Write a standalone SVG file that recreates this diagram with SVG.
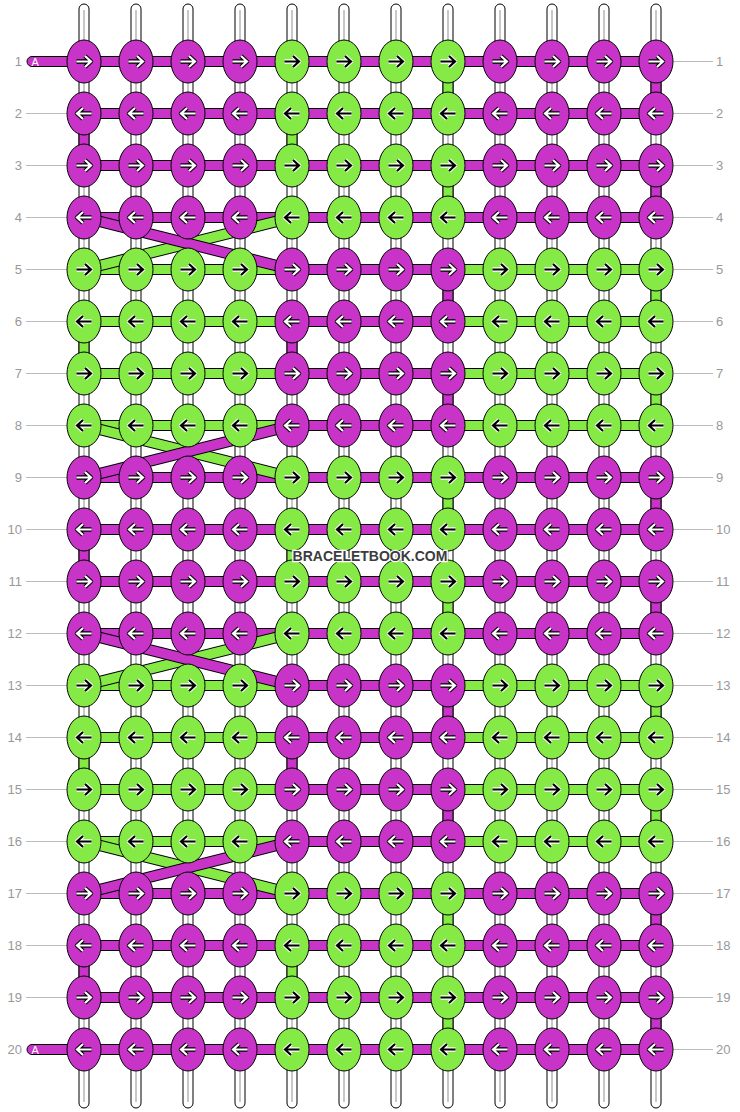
<svg xmlns="http://www.w3.org/2000/svg" width="740" height="1112" viewBox="0 0 740 1112">
<style>
.str{fill:#fff;stroke:#000;stroke-width:1}
.sc{stroke:#c8c8c8;stroke-width:2}
.m{fill:#c833c8;stroke:#000;stroke-width:1}
.g{fill:#86ea46;stroke:#000;stroke-width:1}
.lo{stroke:#000;stroke-width:11.5;fill:none}
.lm{stroke:#c833c8;stroke-width:9.5;fill:none}
.lg{stroke:#86ea46;stroke-width:9.5;fill:none}
.gl{stroke:#bbb;stroke-width:1}
.lab{font-family:"Liberation Sans",Arial,sans-serif;font-size:13px;fill:#999}
.labr{font-family:"Liberation Sans",Arial,sans-serif;font-size:13px;fill:#999}
.wm{font-family:"Liberation Sans",Arial,sans-serif;font-size:14px;font-weight:bold;fill:#3c3c3c;stroke:#fff;stroke-width:2.5;paint-order:stroke}
.al{font-family:"Liberation Sans",Arial,sans-serif;font-size:11px;fill:#fff}
</style>
<defs>
<g id="rw"><path d="M-7.5,0H6.5M1,-5.5L7,0L1,5.5" fill="none" stroke="#000" stroke-width="4.4" stroke-linejoin="round"/><path d="M-7.5,0H6.5M1,-5.5L7,0L1,5.5" fill="none" stroke="#fff" stroke-width="2.2" stroke-linejoin="miter"/></g>
<g id="lw"><path d="M7.5,0H-6.5M-1,-5.5L-7,0L-1,5.5" fill="none" stroke="#000" stroke-width="4.4" stroke-linejoin="round"/><path d="M7.5,0H-6.5M-1,-5.5L-7,0L-1,5.5" fill="none" stroke="#fff" stroke-width="2.2" stroke-linejoin="miter"/></g>
<g id="rb"><path d="M-7.5,0H6.5M1,-5.5L7,0L1,5.5" fill="none" stroke="#fff" stroke-width="4.4" stroke-linejoin="round"/><path d="M-7.5,0H6.5M1,-5.5L7,0L1,5.5" fill="none" stroke="#000" stroke-width="2.2" stroke-linejoin="miter"/></g>
<g id="lb"><path d="M7.5,0H-6.5M-1,-5.5L-7,0L-1,5.5" fill="none" stroke="#fff" stroke-width="4.4" stroke-linejoin="round"/><path d="M7.5,0H-6.5M-1,-5.5L-7,0L-1,5.5" fill="none" stroke="#000" stroke-width="2.2" stroke-linejoin="miter"/></g>
</defs>
<rect width="740" height="1112" fill="#fff"/>
<g id="labels">
<g class="gl">
<line x1="26" y1="113.5" x2="67" y2="113.5"/><line x1="26" y1="165.5" x2="67" y2="165.5"/><line x1="26" y1="217.5" x2="67" y2="217.5"/><line x1="26" y1="269.5" x2="67" y2="269.5"/><line x1="26" y1="321.5" x2="67" y2="321.5"/><line x1="26" y1="373.5" x2="67" y2="373.5"/><line x1="26" y1="425.5" x2="67" y2="425.5"/><line x1="26" y1="477.5" x2="67" y2="477.5"/><line x1="26" y1="529.5" x2="67" y2="529.5"/><line x1="26" y1="581.5" x2="67" y2="581.5"/><line x1="26" y1="633.5" x2="67" y2="633.5"/><line x1="26" y1="685.5" x2="67" y2="685.5"/><line x1="26" y1="737.5" x2="67" y2="737.5"/><line x1="26" y1="789.5" x2="67" y2="789.5"/><line x1="26" y1="841.5" x2="67" y2="841.5"/><line x1="26" y1="893.5" x2="67" y2="893.5"/><line x1="26" y1="945.5" x2="67" y2="945.5"/><line x1="26" y1="997.5" x2="67" y2="997.5"/>
<line x1="673" y1="61.5" x2="713" y2="61.5"/><line x1="673" y1="113.5" x2="713" y2="113.5"/><line x1="673" y1="165.5" x2="713" y2="165.5"/><line x1="673" y1="217.5" x2="713" y2="217.5"/><line x1="673" y1="269.5" x2="713" y2="269.5"/><line x1="673" y1="321.5" x2="713" y2="321.5"/><line x1="673" y1="373.5" x2="713" y2="373.5"/><line x1="673" y1="425.5" x2="713" y2="425.5"/><line x1="673" y1="477.5" x2="713" y2="477.5"/><line x1="673" y1="529.5" x2="713" y2="529.5"/><line x1="673" y1="581.5" x2="713" y2="581.5"/><line x1="673" y1="633.5" x2="713" y2="633.5"/><line x1="673" y1="685.5" x2="713" y2="685.5"/><line x1="673" y1="737.5" x2="713" y2="737.5"/><line x1="673" y1="789.5" x2="713" y2="789.5"/><line x1="673" y1="841.5" x2="713" y2="841.5"/><line x1="673" y1="893.5" x2="713" y2="893.5"/><line x1="673" y1="945.5" x2="713" y2="945.5"/><line x1="673" y1="997.5" x2="713" y2="997.5"/><line x1="673" y1="1049.5" x2="713" y2="1049.5"/>
</g>
<g class="lab" text-anchor="end">
<text x="22" y="66">1</text><text x="22" y="118">2</text><text x="22" y="170">3</text><text x="22" y="222">4</text><text x="22" y="274">5</text><text x="22" y="326">6</text><text x="22" y="378">7</text><text x="22" y="430">8</text><text x="22" y="482">9</text><text x="22" y="534">10</text><text x="22" y="586">11</text><text x="22" y="638">12</text><text x="22" y="690">13</text><text x="22" y="742">14</text><text x="22" y="794">15</text><text x="22" y="846">16</text><text x="22" y="898">17</text><text x="22" y="950">18</text><text x="22" y="1002">19</text><text x="22" y="1054">20</text>
</g>
<g class="labr" text-anchor="start">
<text x="716" y="66">1</text><text x="716" y="118">2</text><text x="716" y="170">3</text><text x="716" y="222">4</text><text x="716" y="274">5</text><text x="716" y="326">6</text><text x="716" y="378">7</text><text x="716" y="430">8</text><text x="716" y="482">9</text><text x="716" y="534">10</text><text x="716" y="586">11</text><text x="716" y="638">12</text><text x="716" y="690">13</text><text x="716" y="742">14</text><text x="716" y="794">15</text><text x="716" y="846">16</text><text x="716" y="898">17</text><text x="716" y="950">18</text><text x="716" y="1002">19</text><text x="716" y="1054">20</text>
</g>
</g>
<g id="strings">
<rect class="str" x="79" y="4" width="10" height="1104" rx="5"/><rect class="str" x="131" y="4" width="10" height="1104" rx="5"/><rect class="str" x="183" y="4" width="10" height="1104" rx="5"/><rect class="str" x="235" y="4" width="10" height="1104" rx="5"/><rect class="str" x="287" y="4" width="10" height="1104" rx="5"/><rect class="str" x="339" y="4" width="10" height="1104" rx="5"/><rect class="str" x="391" y="4" width="10" height="1104" rx="5"/><rect class="str" x="443" y="4" width="10" height="1104" rx="5"/><rect class="str" x="495" y="4" width="10" height="1104" rx="5"/><rect class="str" x="547" y="4" width="10" height="1104" rx="5"/><rect class="str" x="599" y="4" width="10" height="1104" rx="5"/><rect class="str" x="651" y="4" width="10" height="1104" rx="5"/>
<g class="sc"><line x1="84" y1="10" x2="84" y2="1102"/><line x1="136" y1="10" x2="136" y2="1102"/><line x1="188" y1="10" x2="188" y2="1102"/><line x1="240" y1="10" x2="240" y2="1102"/><line x1="292" y1="10" x2="292" y2="1102"/><line x1="344" y1="10" x2="344" y2="1102"/><line x1="396" y1="10" x2="396" y2="1102"/><line x1="448" y1="10" x2="448" y2="1102"/><line x1="500" y1="10" x2="500" y2="1102"/><line x1="552" y1="10" x2="552" y2="1102"/><line x1="604" y1="10" x2="604" y2="1102"/><line x1="656" y1="10" x2="656" y2="1102"/></g>
</g>
<g id="connectors">
<rect class="m" x="27" y="56.5" width="629" height="10" rx="5"/>
<rect class="m" x="84" y="108.5" width="572" height="10"/>
<rect class="m" x="84" y="160.5" width="572" height="10"/>
<rect class="m" x="84" y="212.5" width="572" height="10"/>
<rect class="g" x="84" y="264.5" width="572" height="10"/><rect class="m" x="292" y="264.5" width="156" height="10"/>
<rect class="g" x="84" y="316.5" width="572" height="10"/><rect class="m" x="292" y="316.5" width="156" height="10"/>
<rect class="g" x="84" y="368.5" width="572" height="10"/><rect class="m" x="292" y="368.5" width="156" height="10"/>
<rect class="g" x="84" y="420.5" width="572" height="10"/><rect class="m" x="292" y="420.5" width="156" height="10"/>
<rect class="m" x="84" y="472.5" width="572" height="10"/>
<rect class="m" x="84" y="524.5" width="572" height="10"/>
<rect class="m" x="84" y="576.5" width="572" height="10"/>
<rect class="m" x="84" y="628.5" width="572" height="10"/>
<rect class="g" x="84" y="680.5" width="572" height="10"/><rect class="m" x="292" y="680.5" width="156" height="10"/>
<rect class="g" x="84" y="732.5" width="572" height="10"/><rect class="m" x="292" y="732.5" width="156" height="10"/>
<rect class="g" x="84" y="784.5" width="572" height="10"/><rect class="m" x="292" y="784.5" width="156" height="10"/>
<rect class="g" x="84" y="836.5" width="572" height="10"/><rect class="m" x="292" y="836.5" width="156" height="10"/>
<rect class="m" x="84" y="888.5" width="572" height="10"/>
<rect class="m" x="84" y="940.5" width="572" height="10"/>
<rect class="m" x="84" y="992.5" width="572" height="10"/>
<rect class="m" x="27" y="1044.5" width="629" height="10" rx="5"/>
<line class="lo" x1="292" y1="217.5" x2="84" y2="269.5"/><line class="lg" x1="292" y1="217.5" x2="84" y2="269.5"/>
<line class="lo" x1="84" y1="217.5" x2="292" y2="269.5"/><line class="lm" x1="84" y1="217.5" x2="292" y2="269.5"/>
<line class="lo" x1="84" y1="425.5" x2="292" y2="477.5"/><line class="lg" x1="84" y1="425.5" x2="292" y2="477.5"/>
<line class="lo" x1="292" y1="425.5" x2="84" y2="477.5"/><line class="lm" x1="292" y1="425.5" x2="84" y2="477.5"/>
<line class="lo" x1="292" y1="633.5" x2="84" y2="685.5"/><line class="lg" x1="292" y1="633.5" x2="84" y2="685.5"/>
<line class="lo" x1="84" y1="633.5" x2="292" y2="685.5"/><line class="lm" x1="84" y1="633.5" x2="292" y2="685.5"/>
<line class="lo" x1="84" y1="841.5" x2="292" y2="893.5"/><line class="lg" x1="84" y1="841.5" x2="292" y2="893.5"/>
<line class="lo" x1="292" y1="841.5" x2="84" y2="893.5"/><line class="lm" x1="292" y1="841.5" x2="84" y2="893.5"/>
<rect class="g" x="443" y="61.5" width="10" height="52"/><rect class="m" x="651" y="61.5" width="10" height="52"/>
<rect class="m" x="79" y="113.5" width="10" height="52"/><rect class="g" x="287" y="113.5" width="10" height="52"/>
<rect class="g" x="443" y="165.5" width="10" height="52"/><rect class="m" x="651" y="165.5" width="10" height="52"/>
<rect class="m" x="443" y="269.5" width="10" height="52"/><rect class="g" x="651" y="269.5" width="10" height="52"/>
<rect class="g" x="79" y="321.5" width="10" height="52"/><rect class="m" x="287" y="321.5" width="10" height="52"/>
<rect class="m" x="443" y="373.5" width="10" height="52"/><rect class="g" x="651" y="373.5" width="10" height="52"/>
<rect class="g" x="443" y="477.5" width="10" height="52"/><rect class="m" x="651" y="477.5" width="10" height="52"/>
<rect class="m" x="79" y="529.5" width="10" height="52"/><rect class="g" x="287" y="529.5" width="10" height="52"/>
<rect class="g" x="443" y="581.5" width="10" height="52"/><rect class="m" x="651" y="581.5" width="10" height="52"/>
<rect class="m" x="443" y="685.5" width="10" height="52"/><rect class="g" x="651" y="685.5" width="10" height="52"/>
<rect class="g" x="79" y="737.5" width="10" height="52"/><rect class="m" x="287" y="737.5" width="10" height="52"/>
<rect class="m" x="443" y="789.5" width="10" height="52"/><rect class="g" x="651" y="789.5" width="10" height="52"/>
<rect class="g" x="443" y="893.5" width="10" height="52"/><rect class="m" x="651" y="893.5" width="10" height="52"/>
<rect class="m" x="79" y="945.5" width="10" height="52"/><rect class="g" x="287" y="945.5" width="10" height="52"/>
<rect class="g" x="443" y="997.5" width="10" height="52"/><rect class="m" x="651" y="997.5" width="10" height="52"/>
<text class="al" x="31.5" y="65.5">A</text>
<text class="al" x="31.5" y="1053.5">A</text>
</g>
<g id="knots">
<g id="k1-1"><ellipse class="m" cx="84" cy="61.5" rx="17" ry="21.5"/><use href="#rw" x="84" y="61.5"/></g>
<g id="k1-2"><ellipse class="m" cx="136" cy="61.5" rx="17" ry="21.5"/><use href="#rw" x="136" y="61.5"/></g>
<g id="k1-3"><ellipse class="m" cx="188" cy="61.5" rx="17" ry="21.5"/><use href="#rw" x="188" y="61.5"/></g>
<g id="k1-4"><ellipse class="m" cx="240" cy="61.5" rx="17" ry="21.5"/><use href="#rw" x="240" y="61.5"/></g>
<g id="k1-5"><ellipse class="g" cx="292" cy="61.5" rx="17" ry="21.5"/><use href="#rb" x="292" y="61.5"/></g>
<g id="k1-6"><ellipse class="g" cx="344" cy="61.5" rx="17" ry="21.5"/><use href="#rb" x="344" y="61.5"/></g>
<g id="k1-7"><ellipse class="g" cx="396" cy="61.5" rx="17" ry="21.5"/><use href="#rb" x="396" y="61.5"/></g>
<g id="k1-8"><ellipse class="g" cx="448" cy="61.5" rx="17" ry="21.5"/><use href="#rb" x="448" y="61.5"/></g>
<g id="k1-9"><ellipse class="m" cx="500" cy="61.5" rx="17" ry="21.5"/><use href="#rw" x="500" y="61.5"/></g>
<g id="k1-10"><ellipse class="m" cx="552" cy="61.5" rx="17" ry="21.5"/><use href="#rw" x="552" y="61.5"/></g>
<g id="k1-11"><ellipse class="m" cx="604" cy="61.5" rx="17" ry="21.5"/><use href="#rw" x="604" y="61.5"/></g>
<g id="k1-12"><ellipse class="m" cx="656" cy="61.5" rx="17" ry="21.5"/><use href="#rw" x="656" y="61.5"/></g>
<g id="k2-1"><ellipse class="m" cx="84" cy="113.5" rx="17" ry="21.5"/><use href="#lw" x="84" y="113.5"/></g>
<g id="k2-2"><ellipse class="m" cx="136" cy="113.5" rx="17" ry="21.5"/><use href="#lw" x="136" y="113.5"/></g>
<g id="k2-3"><ellipse class="m" cx="188" cy="113.5" rx="17" ry="21.5"/><use href="#lw" x="188" y="113.5"/></g>
<g id="k2-4"><ellipse class="m" cx="240" cy="113.5" rx="17" ry="21.5"/><use href="#lw" x="240" y="113.5"/></g>
<g id="k2-5"><ellipse class="g" cx="292" cy="113.5" rx="17" ry="21.5"/><use href="#lb" x="292" y="113.5"/></g>
<g id="k2-6"><ellipse class="g" cx="344" cy="113.5" rx="17" ry="21.5"/><use href="#lb" x="344" y="113.5"/></g>
<g id="k2-7"><ellipse class="g" cx="396" cy="113.5" rx="17" ry="21.5"/><use href="#lb" x="396" y="113.5"/></g>
<g id="k2-8"><ellipse class="g" cx="448" cy="113.5" rx="17" ry="21.5"/><use href="#lb" x="448" y="113.5"/></g>
<g id="k2-9"><ellipse class="m" cx="500" cy="113.5" rx="17" ry="21.5"/><use href="#lw" x="500" y="113.5"/></g>
<g id="k2-10"><ellipse class="m" cx="552" cy="113.5" rx="17" ry="21.5"/><use href="#lw" x="552" y="113.5"/></g>
<g id="k2-11"><ellipse class="m" cx="604" cy="113.5" rx="17" ry="21.5"/><use href="#lw" x="604" y="113.5"/></g>
<g id="k2-12"><ellipse class="m" cx="656" cy="113.5" rx="17" ry="21.5"/><use href="#lw" x="656" y="113.5"/></g>
<g id="k3-1"><ellipse class="m" cx="84" cy="165.5" rx="17" ry="21.5"/><use href="#rw" x="84" y="165.5"/></g>
<g id="k3-2"><ellipse class="m" cx="136" cy="165.5" rx="17" ry="21.5"/><use href="#rw" x="136" y="165.5"/></g>
<g id="k3-3"><ellipse class="m" cx="188" cy="165.5" rx="17" ry="21.5"/><use href="#rw" x="188" y="165.5"/></g>
<g id="k3-4"><ellipse class="m" cx="240" cy="165.5" rx="17" ry="21.5"/><use href="#rw" x="240" y="165.5"/></g>
<g id="k3-5"><ellipse class="g" cx="292" cy="165.5" rx="17" ry="21.5"/><use href="#rb" x="292" y="165.5"/></g>
<g id="k3-6"><ellipse class="g" cx="344" cy="165.5" rx="17" ry="21.5"/><use href="#rb" x="344" y="165.5"/></g>
<g id="k3-7"><ellipse class="g" cx="396" cy="165.5" rx="17" ry="21.5"/><use href="#rb" x="396" y="165.5"/></g>
<g id="k3-8"><ellipse class="g" cx="448" cy="165.5" rx="17" ry="21.5"/><use href="#rb" x="448" y="165.5"/></g>
<g id="k3-9"><ellipse class="m" cx="500" cy="165.5" rx="17" ry="21.5"/><use href="#rw" x="500" y="165.5"/></g>
<g id="k3-10"><ellipse class="m" cx="552" cy="165.5" rx="17" ry="21.5"/><use href="#rw" x="552" y="165.5"/></g>
<g id="k3-11"><ellipse class="m" cx="604" cy="165.5" rx="17" ry="21.5"/><use href="#rw" x="604" y="165.5"/></g>
<g id="k3-12"><ellipse class="m" cx="656" cy="165.5" rx="17" ry="21.5"/><use href="#rw" x="656" y="165.5"/></g>
<g id="k4-1"><ellipse class="m" cx="84" cy="217.5" rx="17" ry="21.5"/><use href="#lw" x="84" y="217.5"/></g>
<g id="k4-2"><ellipse class="m" cx="136" cy="217.5" rx="17" ry="21.5"/><use href="#lw" x="136" y="217.5"/></g>
<g id="k4-3"><ellipse class="m" cx="188" cy="217.5" rx="17" ry="21.5"/><use href="#lw" x="188" y="217.5"/></g>
<g id="k4-4"><ellipse class="m" cx="240" cy="217.5" rx="17" ry="21.5"/><use href="#lw" x="240" y="217.5"/></g>
<g id="k4-5"><ellipse class="g" cx="292" cy="217.5" rx="17" ry="21.5"/><use href="#lb" x="292" y="217.5"/></g>
<g id="k4-6"><ellipse class="g" cx="344" cy="217.5" rx="17" ry="21.5"/><use href="#lb" x="344" y="217.5"/></g>
<g id="k4-7"><ellipse class="g" cx="396" cy="217.5" rx="17" ry="21.5"/><use href="#lb" x="396" y="217.5"/></g>
<g id="k4-8"><ellipse class="g" cx="448" cy="217.5" rx="17" ry="21.5"/><use href="#lb" x="448" y="217.5"/></g>
<g id="k4-9"><ellipse class="m" cx="500" cy="217.5" rx="17" ry="21.5"/><use href="#lw" x="500" y="217.5"/></g>
<g id="k4-10"><ellipse class="m" cx="552" cy="217.5" rx="17" ry="21.5"/><use href="#lw" x="552" y="217.5"/></g>
<g id="k4-11"><ellipse class="m" cx="604" cy="217.5" rx="17" ry="21.5"/><use href="#lw" x="604" y="217.5"/></g>
<g id="k4-12"><ellipse class="m" cx="656" cy="217.5" rx="17" ry="21.5"/><use href="#lw" x="656" y="217.5"/></g>
<g id="k5-1"><ellipse class="g" cx="84" cy="269.5" rx="17" ry="21.5"/><use href="#rb" x="84" y="269.5"/></g>
<g id="k5-2"><ellipse class="g" cx="136" cy="269.5" rx="17" ry="21.5"/><use href="#rb" x="136" y="269.5"/></g>
<g id="k5-3"><ellipse class="g" cx="188" cy="269.5" rx="17" ry="21.5"/><use href="#rb" x="188" y="269.5"/></g>
<g id="k5-4"><ellipse class="g" cx="240" cy="269.5" rx="17" ry="21.5"/><use href="#rb" x="240" y="269.5"/></g>
<g id="k5-5"><ellipse class="m" cx="292" cy="269.5" rx="17" ry="21.5"/><use href="#rw" x="292" y="269.5"/></g>
<g id="k5-6"><ellipse class="m" cx="344" cy="269.5" rx="17" ry="21.5"/><use href="#rw" x="344" y="269.5"/></g>
<g id="k5-7"><ellipse class="m" cx="396" cy="269.5" rx="17" ry="21.5"/><use href="#rw" x="396" y="269.5"/></g>
<g id="k5-8"><ellipse class="m" cx="448" cy="269.5" rx="17" ry="21.5"/><use href="#rw" x="448" y="269.5"/></g>
<g id="k5-9"><ellipse class="g" cx="500" cy="269.5" rx="17" ry="21.5"/><use href="#rb" x="500" y="269.5"/></g>
<g id="k5-10"><ellipse class="g" cx="552" cy="269.5" rx="17" ry="21.5"/><use href="#rb" x="552" y="269.5"/></g>
<g id="k5-11"><ellipse class="g" cx="604" cy="269.5" rx="17" ry="21.5"/><use href="#rb" x="604" y="269.5"/></g>
<g id="k5-12"><ellipse class="g" cx="656" cy="269.5" rx="17" ry="21.5"/><use href="#rb" x="656" y="269.5"/></g>
<g id="k6-1"><ellipse class="g" cx="84" cy="321.5" rx="17" ry="21.5"/><use href="#lb" x="84" y="321.5"/></g>
<g id="k6-2"><ellipse class="g" cx="136" cy="321.5" rx="17" ry="21.5"/><use href="#lb" x="136" y="321.5"/></g>
<g id="k6-3"><ellipse class="g" cx="188" cy="321.5" rx="17" ry="21.5"/><use href="#lb" x="188" y="321.5"/></g>
<g id="k6-4"><ellipse class="g" cx="240" cy="321.5" rx="17" ry="21.5"/><use href="#lb" x="240" y="321.5"/></g>
<g id="k6-5"><ellipse class="m" cx="292" cy="321.5" rx="17" ry="21.5"/><use href="#lw" x="292" y="321.5"/></g>
<g id="k6-6"><ellipse class="m" cx="344" cy="321.5" rx="17" ry="21.5"/><use href="#lw" x="344" y="321.5"/></g>
<g id="k6-7"><ellipse class="m" cx="396" cy="321.5" rx="17" ry="21.5"/><use href="#lw" x="396" y="321.5"/></g>
<g id="k6-8"><ellipse class="m" cx="448" cy="321.5" rx="17" ry="21.5"/><use href="#lw" x="448" y="321.5"/></g>
<g id="k6-9"><ellipse class="g" cx="500" cy="321.5" rx="17" ry="21.5"/><use href="#lb" x="500" y="321.5"/></g>
<g id="k6-10"><ellipse class="g" cx="552" cy="321.5" rx="17" ry="21.5"/><use href="#lb" x="552" y="321.5"/></g>
<g id="k6-11"><ellipse class="g" cx="604" cy="321.5" rx="17" ry="21.5"/><use href="#lb" x="604" y="321.5"/></g>
<g id="k6-12"><ellipse class="g" cx="656" cy="321.5" rx="17" ry="21.5"/><use href="#lb" x="656" y="321.5"/></g>
<g id="k7-1"><ellipse class="g" cx="84" cy="373.5" rx="17" ry="21.5"/><use href="#rb" x="84" y="373.5"/></g>
<g id="k7-2"><ellipse class="g" cx="136" cy="373.5" rx="17" ry="21.5"/><use href="#rb" x="136" y="373.5"/></g>
<g id="k7-3"><ellipse class="g" cx="188" cy="373.5" rx="17" ry="21.5"/><use href="#rb" x="188" y="373.5"/></g>
<g id="k7-4"><ellipse class="g" cx="240" cy="373.5" rx="17" ry="21.5"/><use href="#rb" x="240" y="373.5"/></g>
<g id="k7-5"><ellipse class="m" cx="292" cy="373.5" rx="17" ry="21.5"/><use href="#rw" x="292" y="373.5"/></g>
<g id="k7-6"><ellipse class="m" cx="344" cy="373.5" rx="17" ry="21.5"/><use href="#rw" x="344" y="373.5"/></g>
<g id="k7-7"><ellipse class="m" cx="396" cy="373.5" rx="17" ry="21.5"/><use href="#rw" x="396" y="373.5"/></g>
<g id="k7-8"><ellipse class="m" cx="448" cy="373.5" rx="17" ry="21.5"/><use href="#rw" x="448" y="373.5"/></g>
<g id="k7-9"><ellipse class="g" cx="500" cy="373.5" rx="17" ry="21.5"/><use href="#rb" x="500" y="373.5"/></g>
<g id="k7-10"><ellipse class="g" cx="552" cy="373.5" rx="17" ry="21.5"/><use href="#rb" x="552" y="373.5"/></g>
<g id="k7-11"><ellipse class="g" cx="604" cy="373.5" rx="17" ry="21.5"/><use href="#rb" x="604" y="373.5"/></g>
<g id="k7-12"><ellipse class="g" cx="656" cy="373.5" rx="17" ry="21.5"/><use href="#rb" x="656" y="373.5"/></g>
<g id="k8-1"><ellipse class="g" cx="84" cy="425.5" rx="17" ry="21.5"/><use href="#lb" x="84" y="425.5"/></g>
<g id="k8-2"><ellipse class="g" cx="136" cy="425.5" rx="17" ry="21.5"/><use href="#lb" x="136" y="425.5"/></g>
<g id="k8-3"><ellipse class="g" cx="188" cy="425.5" rx="17" ry="21.5"/><use href="#lb" x="188" y="425.5"/></g>
<g id="k8-4"><ellipse class="g" cx="240" cy="425.5" rx="17" ry="21.5"/><use href="#lb" x="240" y="425.5"/></g>
<g id="k8-5"><ellipse class="m" cx="292" cy="425.5" rx="17" ry="21.5"/><use href="#lw" x="292" y="425.5"/></g>
<g id="k8-6"><ellipse class="m" cx="344" cy="425.5" rx="17" ry="21.5"/><use href="#lw" x="344" y="425.5"/></g>
<g id="k8-7"><ellipse class="m" cx="396" cy="425.5" rx="17" ry="21.5"/><use href="#lw" x="396" y="425.5"/></g>
<g id="k8-8"><ellipse class="m" cx="448" cy="425.5" rx="17" ry="21.5"/><use href="#lw" x="448" y="425.5"/></g>
<g id="k8-9"><ellipse class="g" cx="500" cy="425.5" rx="17" ry="21.5"/><use href="#lb" x="500" y="425.5"/></g>
<g id="k8-10"><ellipse class="g" cx="552" cy="425.5" rx="17" ry="21.5"/><use href="#lb" x="552" y="425.5"/></g>
<g id="k8-11"><ellipse class="g" cx="604" cy="425.5" rx="17" ry="21.5"/><use href="#lb" x="604" y="425.5"/></g>
<g id="k8-12"><ellipse class="g" cx="656" cy="425.5" rx="17" ry="21.5"/><use href="#lb" x="656" y="425.5"/></g>
<g id="k9-1"><ellipse class="m" cx="84" cy="477.5" rx="17" ry="21.5"/><use href="#rw" x="84" y="477.5"/></g>
<g id="k9-2"><ellipse class="m" cx="136" cy="477.5" rx="17" ry="21.5"/><use href="#rw" x="136" y="477.5"/></g>
<g id="k9-3"><ellipse class="m" cx="188" cy="477.5" rx="17" ry="21.5"/><use href="#rw" x="188" y="477.5"/></g>
<g id="k9-4"><ellipse class="m" cx="240" cy="477.5" rx="17" ry="21.5"/><use href="#rw" x="240" y="477.5"/></g>
<g id="k9-5"><ellipse class="g" cx="292" cy="477.5" rx="17" ry="21.5"/><use href="#rb" x="292" y="477.5"/></g>
<g id="k9-6"><ellipse class="g" cx="344" cy="477.5" rx="17" ry="21.5"/><use href="#rb" x="344" y="477.5"/></g>
<g id="k9-7"><ellipse class="g" cx="396" cy="477.5" rx="17" ry="21.5"/><use href="#rb" x="396" y="477.5"/></g>
<g id="k9-8"><ellipse class="g" cx="448" cy="477.5" rx="17" ry="21.5"/><use href="#rb" x="448" y="477.5"/></g>
<g id="k9-9"><ellipse class="m" cx="500" cy="477.5" rx="17" ry="21.5"/><use href="#rw" x="500" y="477.5"/></g>
<g id="k9-10"><ellipse class="m" cx="552" cy="477.5" rx="17" ry="21.5"/><use href="#rw" x="552" y="477.5"/></g>
<g id="k9-11"><ellipse class="m" cx="604" cy="477.5" rx="17" ry="21.5"/><use href="#rw" x="604" y="477.5"/></g>
<g id="k9-12"><ellipse class="m" cx="656" cy="477.5" rx="17" ry="21.5"/><use href="#rw" x="656" y="477.5"/></g>
<g id="k10-1"><ellipse class="m" cx="84" cy="529.5" rx="17" ry="21.5"/><use href="#lw" x="84" y="529.5"/></g>
<g id="k10-2"><ellipse class="m" cx="136" cy="529.5" rx="17" ry="21.5"/><use href="#lw" x="136" y="529.5"/></g>
<g id="k10-3"><ellipse class="m" cx="188" cy="529.5" rx="17" ry="21.5"/><use href="#lw" x="188" y="529.5"/></g>
<g id="k10-4"><ellipse class="m" cx="240" cy="529.5" rx="17" ry="21.5"/><use href="#lw" x="240" y="529.5"/></g>
<g id="k10-5"><ellipse class="g" cx="292" cy="529.5" rx="17" ry="21.5"/><use href="#lb" x="292" y="529.5"/></g>
<g id="k10-6"><ellipse class="g" cx="344" cy="529.5" rx="17" ry="21.5"/><use href="#lb" x="344" y="529.5"/></g>
<g id="k10-7"><ellipse class="g" cx="396" cy="529.5" rx="17" ry="21.5"/><use href="#lb" x="396" y="529.5"/></g>
<g id="k10-8"><ellipse class="g" cx="448" cy="529.5" rx="17" ry="21.5"/><use href="#lb" x="448" y="529.5"/></g>
<g id="k10-9"><ellipse class="m" cx="500" cy="529.5" rx="17" ry="21.5"/><use href="#lw" x="500" y="529.5"/></g>
<g id="k10-10"><ellipse class="m" cx="552" cy="529.5" rx="17" ry="21.5"/><use href="#lw" x="552" y="529.5"/></g>
<g id="k10-11"><ellipse class="m" cx="604" cy="529.5" rx="17" ry="21.5"/><use href="#lw" x="604" y="529.5"/></g>
<g id="k10-12"><ellipse class="m" cx="656" cy="529.5" rx="17" ry="21.5"/><use href="#lw" x="656" y="529.5"/></g>
<g id="k11-1"><ellipse class="m" cx="84" cy="581.5" rx="17" ry="21.5"/><use href="#rw" x="84" y="581.5"/></g>
<g id="k11-2"><ellipse class="m" cx="136" cy="581.5" rx="17" ry="21.5"/><use href="#rw" x="136" y="581.5"/></g>
<g id="k11-3"><ellipse class="m" cx="188" cy="581.5" rx="17" ry="21.5"/><use href="#rw" x="188" y="581.5"/></g>
<g id="k11-4"><ellipse class="m" cx="240" cy="581.5" rx="17" ry="21.5"/><use href="#rw" x="240" y="581.5"/></g>
<g id="k11-5"><ellipse class="g" cx="292" cy="581.5" rx="17" ry="21.5"/><use href="#rb" x="292" y="581.5"/></g>
<g id="k11-6"><ellipse class="g" cx="344" cy="581.5" rx="17" ry="21.5"/><use href="#rb" x="344" y="581.5"/></g>
<g id="k11-7"><ellipse class="g" cx="396" cy="581.5" rx="17" ry="21.5"/><use href="#rb" x="396" y="581.5"/></g>
<g id="k11-8"><ellipse class="g" cx="448" cy="581.5" rx="17" ry="21.5"/><use href="#rb" x="448" y="581.5"/></g>
<g id="k11-9"><ellipse class="m" cx="500" cy="581.5" rx="17" ry="21.5"/><use href="#rw" x="500" y="581.5"/></g>
<g id="k11-10"><ellipse class="m" cx="552" cy="581.5" rx="17" ry="21.5"/><use href="#rw" x="552" y="581.5"/></g>
<g id="k11-11"><ellipse class="m" cx="604" cy="581.5" rx="17" ry="21.5"/><use href="#rw" x="604" y="581.5"/></g>
<g id="k11-12"><ellipse class="m" cx="656" cy="581.5" rx="17" ry="21.5"/><use href="#rw" x="656" y="581.5"/></g>
<g id="k12-1"><ellipse class="m" cx="84" cy="633.5" rx="17" ry="21.5"/><use href="#lw" x="84" y="633.5"/></g>
<g id="k12-2"><ellipse class="m" cx="136" cy="633.5" rx="17" ry="21.5"/><use href="#lw" x="136" y="633.5"/></g>
<g id="k12-3"><ellipse class="m" cx="188" cy="633.5" rx="17" ry="21.5"/><use href="#lw" x="188" y="633.5"/></g>
<g id="k12-4"><ellipse class="m" cx="240" cy="633.5" rx="17" ry="21.5"/><use href="#lw" x="240" y="633.5"/></g>
<g id="k12-5"><ellipse class="g" cx="292" cy="633.5" rx="17" ry="21.5"/><use href="#lb" x="292" y="633.5"/></g>
<g id="k12-6"><ellipse class="g" cx="344" cy="633.5" rx="17" ry="21.5"/><use href="#lb" x="344" y="633.5"/></g>
<g id="k12-7"><ellipse class="g" cx="396" cy="633.5" rx="17" ry="21.5"/><use href="#lb" x="396" y="633.5"/></g>
<g id="k12-8"><ellipse class="g" cx="448" cy="633.5" rx="17" ry="21.5"/><use href="#lb" x="448" y="633.5"/></g>
<g id="k12-9"><ellipse class="m" cx="500" cy="633.5" rx="17" ry="21.5"/><use href="#lw" x="500" y="633.5"/></g>
<g id="k12-10"><ellipse class="m" cx="552" cy="633.5" rx="17" ry="21.5"/><use href="#lw" x="552" y="633.5"/></g>
<g id="k12-11"><ellipse class="m" cx="604" cy="633.5" rx="17" ry="21.5"/><use href="#lw" x="604" y="633.5"/></g>
<g id="k12-12"><ellipse class="m" cx="656" cy="633.5" rx="17" ry="21.5"/><use href="#lw" x="656" y="633.5"/></g>
<g id="k13-1"><ellipse class="g" cx="84" cy="685.5" rx="17" ry="21.5"/><use href="#rb" x="84" y="685.5"/></g>
<g id="k13-2"><ellipse class="g" cx="136" cy="685.5" rx="17" ry="21.5"/><use href="#rb" x="136" y="685.5"/></g>
<g id="k13-3"><ellipse class="g" cx="188" cy="685.5" rx="17" ry="21.5"/><use href="#rb" x="188" y="685.5"/></g>
<g id="k13-4"><ellipse class="g" cx="240" cy="685.5" rx="17" ry="21.5"/><use href="#rb" x="240" y="685.5"/></g>
<g id="k13-5"><ellipse class="m" cx="292" cy="685.5" rx="17" ry="21.5"/><use href="#rw" x="292" y="685.5"/></g>
<g id="k13-6"><ellipse class="m" cx="344" cy="685.5" rx="17" ry="21.5"/><use href="#rw" x="344" y="685.5"/></g>
<g id="k13-7"><ellipse class="m" cx="396" cy="685.5" rx="17" ry="21.5"/><use href="#rw" x="396" y="685.5"/></g>
<g id="k13-8"><ellipse class="m" cx="448" cy="685.5" rx="17" ry="21.5"/><use href="#rw" x="448" y="685.5"/></g>
<g id="k13-9"><ellipse class="g" cx="500" cy="685.5" rx="17" ry="21.5"/><use href="#rb" x="500" y="685.5"/></g>
<g id="k13-10"><ellipse class="g" cx="552" cy="685.5" rx="17" ry="21.5"/><use href="#rb" x="552" y="685.5"/></g>
<g id="k13-11"><ellipse class="g" cx="604" cy="685.5" rx="17" ry="21.5"/><use href="#rb" x="604" y="685.5"/></g>
<g id="k13-12"><ellipse class="g" cx="656" cy="685.5" rx="17" ry="21.5"/><use href="#rb" x="656" y="685.5"/></g>
<g id="k14-1"><ellipse class="g" cx="84" cy="737.5" rx="17" ry="21.5"/><use href="#lb" x="84" y="737.5"/></g>
<g id="k14-2"><ellipse class="g" cx="136" cy="737.5" rx="17" ry="21.5"/><use href="#lb" x="136" y="737.5"/></g>
<g id="k14-3"><ellipse class="g" cx="188" cy="737.5" rx="17" ry="21.5"/><use href="#lb" x="188" y="737.5"/></g>
<g id="k14-4"><ellipse class="g" cx="240" cy="737.5" rx="17" ry="21.5"/><use href="#lb" x="240" y="737.5"/></g>
<g id="k14-5"><ellipse class="m" cx="292" cy="737.5" rx="17" ry="21.5"/><use href="#lw" x="292" y="737.5"/></g>
<g id="k14-6"><ellipse class="m" cx="344" cy="737.5" rx="17" ry="21.5"/><use href="#lw" x="344" y="737.5"/></g>
<g id="k14-7"><ellipse class="m" cx="396" cy="737.5" rx="17" ry="21.5"/><use href="#lw" x="396" y="737.5"/></g>
<g id="k14-8"><ellipse class="m" cx="448" cy="737.5" rx="17" ry="21.5"/><use href="#lw" x="448" y="737.5"/></g>
<g id="k14-9"><ellipse class="g" cx="500" cy="737.5" rx="17" ry="21.5"/><use href="#lb" x="500" y="737.5"/></g>
<g id="k14-10"><ellipse class="g" cx="552" cy="737.5" rx="17" ry="21.5"/><use href="#lb" x="552" y="737.5"/></g>
<g id="k14-11"><ellipse class="g" cx="604" cy="737.5" rx="17" ry="21.5"/><use href="#lb" x="604" y="737.5"/></g>
<g id="k14-12"><ellipse class="g" cx="656" cy="737.5" rx="17" ry="21.5"/><use href="#lb" x="656" y="737.5"/></g>
<g id="k15-1"><ellipse class="g" cx="84" cy="789.5" rx="17" ry="21.5"/><use href="#rb" x="84" y="789.5"/></g>
<g id="k15-2"><ellipse class="g" cx="136" cy="789.5" rx="17" ry="21.5"/><use href="#rb" x="136" y="789.5"/></g>
<g id="k15-3"><ellipse class="g" cx="188" cy="789.5" rx="17" ry="21.5"/><use href="#rb" x="188" y="789.5"/></g>
<g id="k15-4"><ellipse class="g" cx="240" cy="789.5" rx="17" ry="21.5"/><use href="#rb" x="240" y="789.5"/></g>
<g id="k15-5"><ellipse class="m" cx="292" cy="789.5" rx="17" ry="21.5"/><use href="#rw" x="292" y="789.5"/></g>
<g id="k15-6"><ellipse class="m" cx="344" cy="789.5" rx="17" ry="21.5"/><use href="#rw" x="344" y="789.5"/></g>
<g id="k15-7"><ellipse class="m" cx="396" cy="789.5" rx="17" ry="21.5"/><use href="#rw" x="396" y="789.5"/></g>
<g id="k15-8"><ellipse class="m" cx="448" cy="789.5" rx="17" ry="21.5"/><use href="#rw" x="448" y="789.5"/></g>
<g id="k15-9"><ellipse class="g" cx="500" cy="789.5" rx="17" ry="21.5"/><use href="#rb" x="500" y="789.5"/></g>
<g id="k15-10"><ellipse class="g" cx="552" cy="789.5" rx="17" ry="21.5"/><use href="#rb" x="552" y="789.5"/></g>
<g id="k15-11"><ellipse class="g" cx="604" cy="789.5" rx="17" ry="21.5"/><use href="#rb" x="604" y="789.5"/></g>
<g id="k15-12"><ellipse class="g" cx="656" cy="789.5" rx="17" ry="21.5"/><use href="#rb" x="656" y="789.5"/></g>
<g id="k16-1"><ellipse class="g" cx="84" cy="841.5" rx="17" ry="21.5"/><use href="#lb" x="84" y="841.5"/></g>
<g id="k16-2"><ellipse class="g" cx="136" cy="841.5" rx="17" ry="21.5"/><use href="#lb" x="136" y="841.5"/></g>
<g id="k16-3"><ellipse class="g" cx="188" cy="841.5" rx="17" ry="21.5"/><use href="#lb" x="188" y="841.5"/></g>
<g id="k16-4"><ellipse class="g" cx="240" cy="841.5" rx="17" ry="21.5"/><use href="#lb" x="240" y="841.5"/></g>
<g id="k16-5"><ellipse class="m" cx="292" cy="841.5" rx="17" ry="21.5"/><use href="#lw" x="292" y="841.5"/></g>
<g id="k16-6"><ellipse class="m" cx="344" cy="841.5" rx="17" ry="21.5"/><use href="#lw" x="344" y="841.5"/></g>
<g id="k16-7"><ellipse class="m" cx="396" cy="841.5" rx="17" ry="21.5"/><use href="#lw" x="396" y="841.5"/></g>
<g id="k16-8"><ellipse class="m" cx="448" cy="841.5" rx="17" ry="21.5"/><use href="#lw" x="448" y="841.5"/></g>
<g id="k16-9"><ellipse class="g" cx="500" cy="841.5" rx="17" ry="21.5"/><use href="#lb" x="500" y="841.5"/></g>
<g id="k16-10"><ellipse class="g" cx="552" cy="841.5" rx="17" ry="21.5"/><use href="#lb" x="552" y="841.5"/></g>
<g id="k16-11"><ellipse class="g" cx="604" cy="841.5" rx="17" ry="21.5"/><use href="#lb" x="604" y="841.5"/></g>
<g id="k16-12"><ellipse class="g" cx="656" cy="841.5" rx="17" ry="21.5"/><use href="#lb" x="656" y="841.5"/></g>
<g id="k17-1"><ellipse class="m" cx="84" cy="893.5" rx="17" ry="21.5"/><use href="#rw" x="84" y="893.5"/></g>
<g id="k17-2"><ellipse class="m" cx="136" cy="893.5" rx="17" ry="21.5"/><use href="#rw" x="136" y="893.5"/></g>
<g id="k17-3"><ellipse class="m" cx="188" cy="893.5" rx="17" ry="21.5"/><use href="#rw" x="188" y="893.5"/></g>
<g id="k17-4"><ellipse class="m" cx="240" cy="893.5" rx="17" ry="21.5"/><use href="#rw" x="240" y="893.5"/></g>
<g id="k17-5"><ellipse class="g" cx="292" cy="893.5" rx="17" ry="21.5"/><use href="#rb" x="292" y="893.5"/></g>
<g id="k17-6"><ellipse class="g" cx="344" cy="893.5" rx="17" ry="21.5"/><use href="#rb" x="344" y="893.5"/></g>
<g id="k17-7"><ellipse class="g" cx="396" cy="893.5" rx="17" ry="21.5"/><use href="#rb" x="396" y="893.5"/></g>
<g id="k17-8"><ellipse class="g" cx="448" cy="893.5" rx="17" ry="21.5"/><use href="#rb" x="448" y="893.5"/></g>
<g id="k17-9"><ellipse class="m" cx="500" cy="893.5" rx="17" ry="21.5"/><use href="#rw" x="500" y="893.5"/></g>
<g id="k17-10"><ellipse class="m" cx="552" cy="893.5" rx="17" ry="21.5"/><use href="#rw" x="552" y="893.5"/></g>
<g id="k17-11"><ellipse class="m" cx="604" cy="893.5" rx="17" ry="21.5"/><use href="#rw" x="604" y="893.5"/></g>
<g id="k17-12"><ellipse class="m" cx="656" cy="893.5" rx="17" ry="21.5"/><use href="#rw" x="656" y="893.5"/></g>
<g id="k18-1"><ellipse class="m" cx="84" cy="945.5" rx="17" ry="21.5"/><use href="#lw" x="84" y="945.5"/></g>
<g id="k18-2"><ellipse class="m" cx="136" cy="945.5" rx="17" ry="21.5"/><use href="#lw" x="136" y="945.5"/></g>
<g id="k18-3"><ellipse class="m" cx="188" cy="945.5" rx="17" ry="21.5"/><use href="#lw" x="188" y="945.5"/></g>
<g id="k18-4"><ellipse class="m" cx="240" cy="945.5" rx="17" ry="21.5"/><use href="#lw" x="240" y="945.5"/></g>
<g id="k18-5"><ellipse class="g" cx="292" cy="945.5" rx="17" ry="21.5"/><use href="#lb" x="292" y="945.5"/></g>
<g id="k18-6"><ellipse class="g" cx="344" cy="945.5" rx="17" ry="21.5"/><use href="#lb" x="344" y="945.5"/></g>
<g id="k18-7"><ellipse class="g" cx="396" cy="945.5" rx="17" ry="21.5"/><use href="#lb" x="396" y="945.5"/></g>
<g id="k18-8"><ellipse class="g" cx="448" cy="945.5" rx="17" ry="21.5"/><use href="#lb" x="448" y="945.5"/></g>
<g id="k18-9"><ellipse class="m" cx="500" cy="945.5" rx="17" ry="21.5"/><use href="#lw" x="500" y="945.5"/></g>
<g id="k18-10"><ellipse class="m" cx="552" cy="945.5" rx="17" ry="21.5"/><use href="#lw" x="552" y="945.5"/></g>
<g id="k18-11"><ellipse class="m" cx="604" cy="945.5" rx="17" ry="21.5"/><use href="#lw" x="604" y="945.5"/></g>
<g id="k18-12"><ellipse class="m" cx="656" cy="945.5" rx="17" ry="21.5"/><use href="#lw" x="656" y="945.5"/></g>
<g id="k19-1"><ellipse class="m" cx="84" cy="997.5" rx="17" ry="21.5"/><use href="#rw" x="84" y="997.5"/></g>
<g id="k19-2"><ellipse class="m" cx="136" cy="997.5" rx="17" ry="21.5"/><use href="#rw" x="136" y="997.5"/></g>
<g id="k19-3"><ellipse class="m" cx="188" cy="997.5" rx="17" ry="21.5"/><use href="#rw" x="188" y="997.5"/></g>
<g id="k19-4"><ellipse class="m" cx="240" cy="997.5" rx="17" ry="21.5"/><use href="#rw" x="240" y="997.5"/></g>
<g id="k19-5"><ellipse class="g" cx="292" cy="997.5" rx="17" ry="21.5"/><use href="#rb" x="292" y="997.5"/></g>
<g id="k19-6"><ellipse class="g" cx="344" cy="997.5" rx="17" ry="21.5"/><use href="#rb" x="344" y="997.5"/></g>
<g id="k19-7"><ellipse class="g" cx="396" cy="997.5" rx="17" ry="21.5"/><use href="#rb" x="396" y="997.5"/></g>
<g id="k19-8"><ellipse class="g" cx="448" cy="997.5" rx="17" ry="21.5"/><use href="#rb" x="448" y="997.5"/></g>
<g id="k19-9"><ellipse class="m" cx="500" cy="997.5" rx="17" ry="21.5"/><use href="#rw" x="500" y="997.5"/></g>
<g id="k19-10"><ellipse class="m" cx="552" cy="997.5" rx="17" ry="21.5"/><use href="#rw" x="552" y="997.5"/></g>
<g id="k19-11"><ellipse class="m" cx="604" cy="997.5" rx="17" ry="21.5"/><use href="#rw" x="604" y="997.5"/></g>
<g id="k19-12"><ellipse class="m" cx="656" cy="997.5" rx="17" ry="21.5"/><use href="#rw" x="656" y="997.5"/></g>
<g id="k20-1"><ellipse class="m" cx="84" cy="1049.5" rx="17" ry="21.5"/><use href="#lw" x="84" y="1049.5"/></g>
<g id="k20-2"><ellipse class="m" cx="136" cy="1049.5" rx="17" ry="21.5"/><use href="#lw" x="136" y="1049.5"/></g>
<g id="k20-3"><ellipse class="m" cx="188" cy="1049.5" rx="17" ry="21.5"/><use href="#lw" x="188" y="1049.5"/></g>
<g id="k20-4"><ellipse class="m" cx="240" cy="1049.5" rx="17" ry="21.5"/><use href="#lw" x="240" y="1049.5"/></g>
<g id="k20-5"><ellipse class="g" cx="292" cy="1049.5" rx="17" ry="21.5"/><use href="#lb" x="292" y="1049.5"/></g>
<g id="k20-6"><ellipse class="g" cx="344" cy="1049.5" rx="17" ry="21.5"/><use href="#lb" x="344" y="1049.5"/></g>
<g id="k20-7"><ellipse class="g" cx="396" cy="1049.5" rx="17" ry="21.5"/><use href="#lb" x="396" y="1049.5"/></g>
<g id="k20-8"><ellipse class="g" cx="448" cy="1049.5" rx="17" ry="21.5"/><use href="#lb" x="448" y="1049.5"/></g>
<g id="k20-9"><ellipse class="m" cx="500" cy="1049.5" rx="17" ry="21.5"/><use href="#lw" x="500" y="1049.5"/></g>
<g id="k20-10"><ellipse class="m" cx="552" cy="1049.5" rx="17" ry="21.5"/><use href="#lw" x="552" y="1049.5"/></g>
<g id="k20-11"><ellipse class="m" cx="604" cy="1049.5" rx="17" ry="21.5"/><use href="#lw" x="604" y="1049.5"/></g>
<g id="k20-12"><ellipse class="m" cx="656" cy="1049.5" rx="17" ry="21.5"/><use href="#lw" x="656" y="1049.5"/></g>
</g>
<text class="wm" x="370" y="561" text-anchor="middle">BRACELETBOOK.COM</text>
</svg>
